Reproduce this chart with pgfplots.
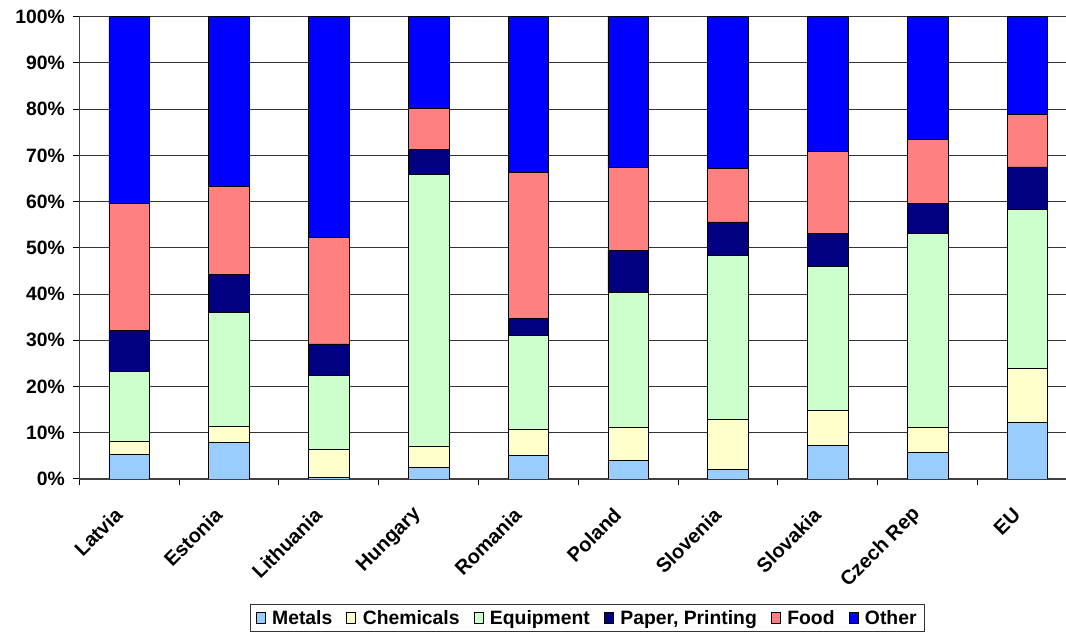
\documentclass[border=0pt]{standalone}
\usepackage{pgfplots}
\pgfplotsset{compat=1.18}
\usepackage{fontspec}
\setmainfont{Liberation Sans}

\definecolor{cMetals}{HTML}{99CCFF}
\definecolor{cChem}{HTML}{FFFFCC}
\definecolor{cEquip}{HTML}{CCFFCC}
\definecolor{cPaper}{HTML}{000080}
\definecolor{cFood}{HTML}{FF8080}
\definecolor{cOther}{HTML}{0000FF}

\newcommand{\lblfont}{\bfseries\fontsize{14.5}{16}\selectfont}

\begin{document}
\begin{tikzpicture}
\begin{axis}[
  at={(0,0)}, anchor=south west,
  scale only axis,
  width=739.5pt, height=346.5pt,
  ybar stacked,
  bar width=30.45pt,
  xmin=-0.5, xmax=9.387,
  ymin=0, ymax=100,
  axis x line*=bottom, axis y line*=left,
  axis line style={-, line width=0.8pt, black!75},
  ytick={0,10,...,100},
  yticklabels={0\%,10\%,20\%,30\%,40\%,50\%,60\%,70\%,80\%,90\%,100\%},
  yticklabel style={font=\lblfont, xshift=-2.5pt},
  ymajorgrids,
  major grid style={line width=0.7pt, black!80},
  tick align=outside,
  major tick length=4.8pt,
  tick style={line width=0.7pt, black},
  xtick={-0.5,0.5,...,9.5},
  xticklabels={},
  extra x ticks={0,1,2,3,4,5,6,7,8,9},
  extra x tick labels={Latvia,Estonia,Lithuania,Hungary,Romania,Poland,Slovenia,Slovakia,Czech Rep,EU},
  extra x tick style={major tick length=0pt, grid=none,
    tick label style={font=\bfseries\fontsize{15}{16}\selectfont, xshift=-5.5pt, yshift=-22pt, rotate=45, anchor=east}},
  clip=true,
  legend columns=-1,
  legend style={at={(0.515,-0.271)}, anchor=north, draw=black!80, line width=0.8pt,
    font=\lblfont, inner xsep=4pt, inner ysep=2pt,
    /tikz/every odd column/.append style={column sep=3pt},
    /tikz/every even column/.append style={column sep=8.5pt}},
  legend image code/.code={\draw[#1, draw=black, line width=0.5pt] (0pt,-4.2pt) rectangle (6.8pt,4.2pt);},
  every axis plot/.append style={draw=black, line width=0.6pt},
]
% shares in percent, stacked from the bottom
\addplot[fill=cMetals] coordinates {(0,5.3) (1,7.9) (2,0.4) (3,2.5) (4,5.1) (5,4.0) (6,2.0) (7,7.2) (8,5.8) (9,12.3)};
\addplot[fill=cChem] coordinates {(0,2.9) (1,3.5) (2,5.9) (3,4.5) (4,5.7) (5,7.2) (6,10.9) (7,7.7) (8,5.3) (9,11.7)};
\addplot[fill=cEquip] coordinates {(0,15.1) (1,24.7) (2,16.1) (3,58.8) (4,20.2) (5,29.1) (6,35.4) (7,31.0) (8,42.1) (9,34.3)};
\addplot[fill=cPaper] coordinates {(0,8.9) (1,8.2) (2,6.8) (3,5.4) (4,3.8) (5,9.2) (6,7.3) (7,7.3) (8,6.4) (9,9.2)};
\addplot[fill=cFood] coordinates {(0,27.3) (1,18.9) (2,23.0) (3,9.0) (4,31.5) (5,17.8) (6,11.6) (7,17.7) (8,13.9) (9,11.4)};
\addplot[fill=cOther] coordinates {(0,40.5) (1,36.8) (2,47.8) (3,19.8) (4,33.7) (5,32.7) (6,32.8) (7,29.1) (8,26.5) (9,21.1)};
\legend{Metals,Chemicals,Equipment,{Paper, Printing},Food,Other}
\end{axis}
\pgfresetboundingbox
\path[use as bounding box] (-59.5pt,-116.5pt) rectangle (739.5pt,359pt);
\end{tikzpicture}
\end{document}
